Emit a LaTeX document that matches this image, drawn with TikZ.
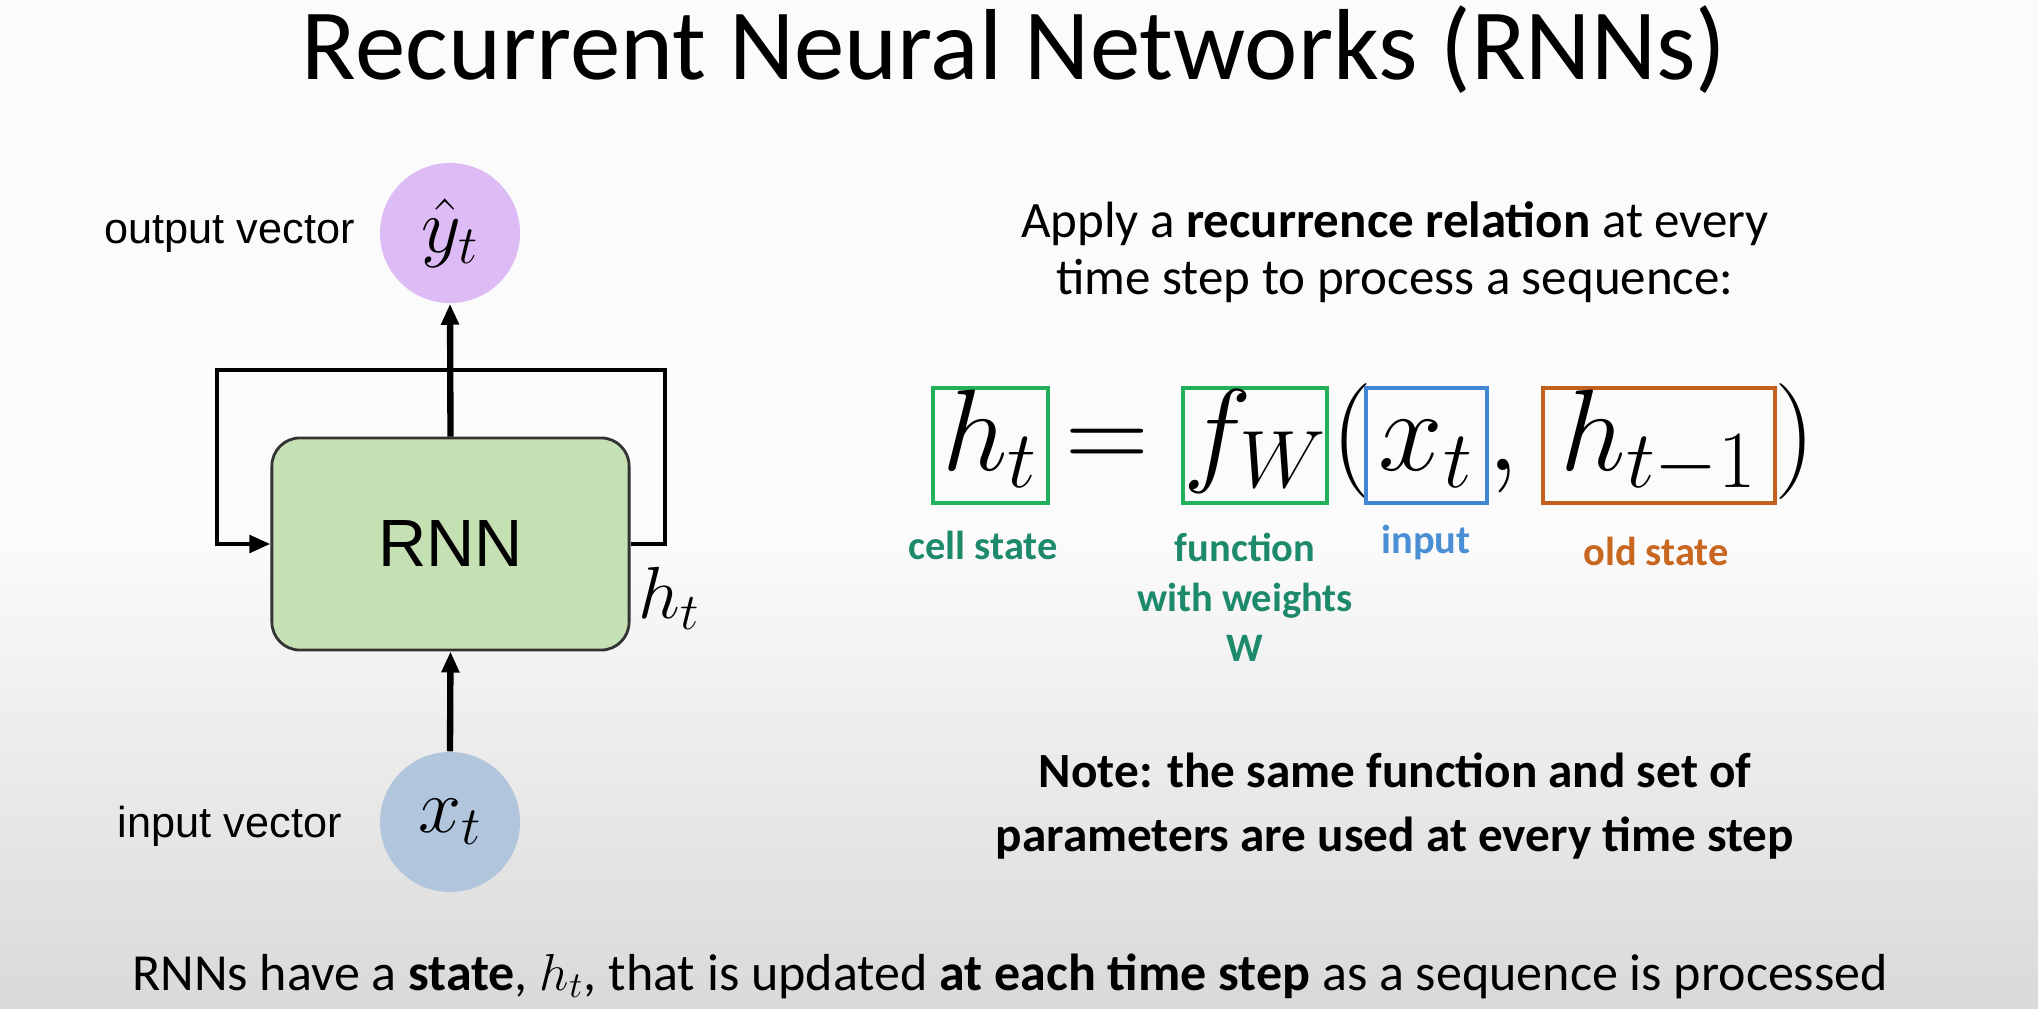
\RequirePackage{fix-cm}
\documentclass[tikz,border=0pt]{standalone}
\usepackage{fontspec}
\setmainfont{Carlito}
\newfontfamily\arialfont{Liberation Sans}
\usepackage{xcolor}
\usetikzlibrary{arrows.meta}
\definecolor{PageTop}{HTML}{FBFBFB}
\definecolor{PageBottom}{HTML}{D9D9D9}
\definecolor{OutViolet}{HTML}{DDBBF4}
\definecolor{InBlue}{HTML}{B1C6DD}
\definecolor{CellGreen}{HTML}{C5E0B3}
\definecolor{BoxGreen}{HTML}{23B05A}
\definecolor{BoxBlue}{HTML}{3F87D5}
\definecolor{BoxOrange}{HTML}{C2601E}
\definecolor{LabTeal}{HTML}{1E8A6C}
\definecolor{LabBlue}{HTML}{4A8FD4}
\definecolor{LabOrange}{HTML}{C8671F}
\tikzset{
  vecnode/.style={circle, minimum size=1.4cm, inner sep=0pt, font=\fontsize{22}{26}\selectfont},
  cellbox/.style={draw=black!80, fill=CellGreen, rounded corners=0.28cm, minimum width=3.57cm,
    minimum height=2.12cm, line width=0.8pt, font=\arialfont\fontsize{19}{22}\selectfont},
  sidelabel/.style={font=\arialfont\fontsize{12.3}{14}\selectfont},
  flow/.style={-{Triangle[length=0.21cm,width=0.17cm]}, line width=1.8pt},
  loopline/.style={-{Triangle[length=0.21cm,width=0.17cm]}, line width=1.4pt},
  eqbox/.style={line width=1.1pt, inner sep=0pt, text height=0.82cm, text depth=0.33cm,
    anchor=base, font=\fontsize{33}{38}\selectfont},
  eqsym/.style={inner sep=0pt, anchor=base, font=\fontsize{33}{38}\selectfont},
  eqlabel/.style={align=center, font=\bfseries\fontsize{11.5}{14.2}\selectfont},
}

\begin{document}
\begin{tikzpicture}[x=0.01cm, y=-0.01cm]

% Page background, grey towards the bottom
\useasboundingbox (0,0) rectangle (2038,1009);
\fill[PageTop] (0,0) rectangle (2038,1009);
\shade[top color=PageTop, bottom color=PageBottom] (0,540) rectangle (2038,1009);

% Title
\node[anchor=base, font=\fontsize{28.7}{32}\selectfont] (title) at (1014,80) {Recurrent Neural Networks (RNNs)};

% RNN cell with its loop
\node[cellbox] (rnn) at (450.5,544) {RNN};
\node[vecnode, fill=OutViolet] (yout) at (450,233) {$\hat{y}_t$};
\node[vecnode, fill=InBlue] (xinp) at (450,822) {$x_t$};
\node[sidelabel, anchor=east] (outlab) at (367,234) {output vector};
\node[sidelabel, anchor=east] (inlab) at (354,826) {input vector};
\node[anchor=west, inner sep=0pt, font=\fontsize{21}{24}\selectfont] (hstate) at (638,598) {$h_t$};
\coordinate (loopR) at (665,370);
\coordinate (loopL) at (217,370);
\draw[flow] (rnn.north) -- (yout.south);
\draw[flow] (xinp.north) -- (rnn.south);
\draw[loopline] (rnn.east) -| (loopR) -| (loopL) |- (rnn.west);

% Recurrence relation
\node[align=center, font=\fontsize{14.5}{16.2}\selectfont] (apply) at (1395,252)
  {Apply a \textbf{recurrence relation} at every\\time step to process a sequence:};
\node[eqbox, draw=BoxGreen, minimum width=1.15cm] (hnew) at (990.5,470) {$h_t$};
\node[eqsym] (equal) at (1107,470) {$=$};
\node[eqbox, draw=BoxGreen, minimum width=1.42cm] (fw) at (1255,470) {$f_W$};
\node[eqsym] (lpar) at (1352,470) {$($};
\node[eqbox, draw=BoxBlue, minimum width=1.21cm] (xarg) at (1426.5,470) {$x_t$};
\node[eqsym] (comma) at (1503,470) {$,$};
\node[eqbox, draw=BoxOrange, minimum width=2.32cm] (hold) at (1659,470) {$h_{t-1}$};
\node[eqsym] (rpar) at (1795,470) {$)$};

% Labels under the terms
\node[eqlabel, text=LabTeal] (lcell) at (983,545) {cell state};
\node[eqlabel, text=LabTeal] (lfun) at (1245,597) {function\\with weights\\W};
\node[eqlabel, text=LabBlue] (lin) at (1426,542) {input};
\node[eqlabel, text=LabOrange] (lold) at (1656,551) {old state};

% Note and footer
\node[align=center, font=\bfseries\fontsize{14}{18}\selectfont] (note) at (1395,806)
  {Note: the same function and set of\\parameters are used at every time step};
\node[anchor=base, font=\fontsize{14.8}{17}\selectfont] (foot) at (1010,990)
  {RNNs have a \textbf{state}, $h_t$, that is updated \textbf{at each time step} as a sequence is processed};

\end{tikzpicture}
\end{document}
